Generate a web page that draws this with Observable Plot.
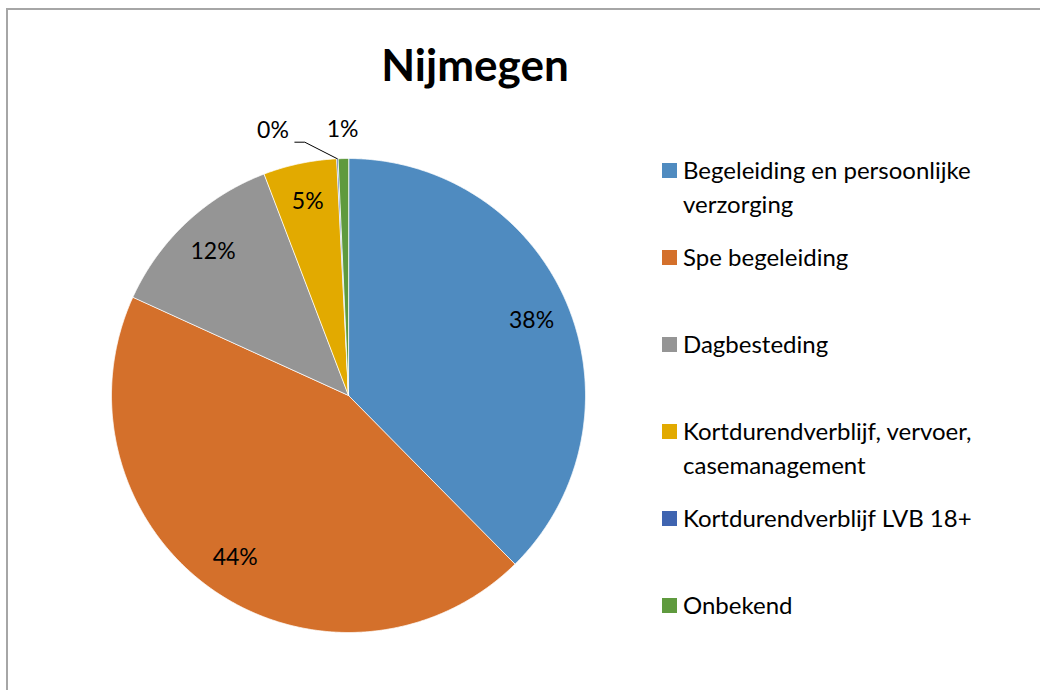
<!DOCTYPE html>
<html>
<head>
<meta charset="utf-8">
<script src="https://cdn.jsdelivr.net/npm/d3@7"></script>
<script src="https://cdn.jsdelivr.net/npm/@observablehq/plot@0.6"></script>
<style>
  html, body { margin: 0; padding: 0; background: #fff; }
  #wrap { position: relative; width: 1040px; height: 690px; overflow: hidden; font-family: Lato, "Open Sans", sans-serif; }
  #frame { position: absolute; left: 6px; top: 8px; width: 1100px; height: 800px; border-left: 2px solid #a6a6a6; border-top: 2px solid #a6a6a6; box-sizing: border-box; }
  #title { position: absolute; left: 0; top: 36px; width: 950px; text-align: center; font-weight: bold; font-size: 44px; color: #000; line-height: 56px; }
  #chart { position: absolute; left: 0; top: 0; }
  #legend { position: absolute; left: 662px; top: 153px; }
  .item { display: flex; align-items: flex-start; height: 87px; }
  .sw { width: 15px; height: 15px; margin-top: 10px; margin-right: 6px; flex: none; }
  .lab { font-size: 24px; line-height: 34px; width: 340px; color: #000; }
</style>
</head>
<body>
<div id="wrap">
  <div id="frame"></div>
  <div id="chart"></div>
  <div id="title"></div>
  <div id="legend"></div>
</div>
<script>
const title = "Nijmegen";
const categories = [
  "Begeleiding en persoonlijke verzorging",
  "Spe begeleiding",
  "Dagbesteding",
  "Kortdurendverblijf, vervoer, casemanagement",
  "Kortdurendverblijf LVB 18+",
  "Onbekend"
];
const values = [37.6, 44.2, 12.4, 5.0, 0.1, 0.7];
const valueLabels = ["38%", "44%", "12%", "5%", "0%", "1%"];
const colors = ["#4f8bc0", "#d4702b", "#959595", "#e2aa00", "#3f64b0", "#5f9a3e"];

// layout (pixels) for the pie
const W = 1040, H = 690, CX = 348, CY = 395, R = 237;

const arcs = d3.pie().sort(null).value(d => d)(values);
const pt = (a, r) => ({x: r * Math.sin(a), y: r * Math.cos(a)});

// slice polygons
const slicePts = [];
arcs.forEach((a, i) => {
  const name = categories[i];
  slicePts.push({name, ...pt(0, 0)});
  const n = Math.max(2, Math.ceil((a.endAngle - a.startAngle) / 0.004));
  for (let k = 0; k <= n; k++) {
    const ang = a.startAngle + (a.endAngle - a.startAngle) * k / n;
    slicePts.push({name, ...pt(ang, 1)});
  }
});

// data labels: inside for large slices, outside for tiny ones
const labelData = arcs.map((a, i) => {
  const mid = (a.startAngle + a.endAngle) / 2;
  const small = values[i] < 2;
  const p = pt(mid, small ? 1.12 : 0.835);
  return {...p, text: valueLabels[i], idx: i};
});
const leaderIdx = 4;

// leader line for the tiny "0%" slice
const lead = arcs[leaderIdx];
const leadMid = (lead.startAngle + lead.endAngle) / 2;
const l0 = pt(leadMid, 1.0), l1 = pt(leadMid, 1.07);
const leader = [l0, {x: l1.x - 0.134, y: l1.y}, {x: l1.x - 0.176, y: l1.y}];

const chart = Plot.plot({
  width: W, height: H,
  marginLeft: 0, marginRight: 0, marginTop: 0, marginBottom: 0,
  x: {domain: [-CX / R, (W - CX) / R], axis: null},
  y: {domain: [-(H - CY) / R, CY / R], axis: null},
  color: {domain: categories, range: colors},
  style: {background: "transparent", fontFamily: "Lato, 'Open Sans', sans-serif"},
  marks: [
    Plot.line(slicePts, {x: "x", y: "y", z: "name", fill: "name", stroke: "white", strokeWidth: 0.8, curve: "linear-closed"}),
    Plot.line(leader, {x: "x", y: "y", stroke: "#000", strokeWidth: 1}),
    Plot.text(labelData.filter(d => d.idx !== leaderIdx), {x: "x", y: "y", text: "text", fontSize: 23, fill: "#000"}),
    Plot.text(labelData.filter(d => d.idx === leaderIdx), {x: "x", y: "y", text: "text", dx: -63, fontSize: 23, fill: "#000"})
  ]
});
document.getElementById("chart").appendChild(chart);

document.getElementById("title").textContent = title;
const legend = document.getElementById("legend");
categories.forEach((c, i) => {
  const item = document.createElement("div");
  item.className = "item";
  const sw = document.createElement("div");
  sw.className = "sw";
  sw.style.background = colors[i];
  const lab = document.createElement("div");
  lab.className = "lab";
  lab.textContent = c;
  item.appendChild(sw);
  item.appendChild(lab);
  legend.appendChild(item);
});
</script>
</body>
</html>
